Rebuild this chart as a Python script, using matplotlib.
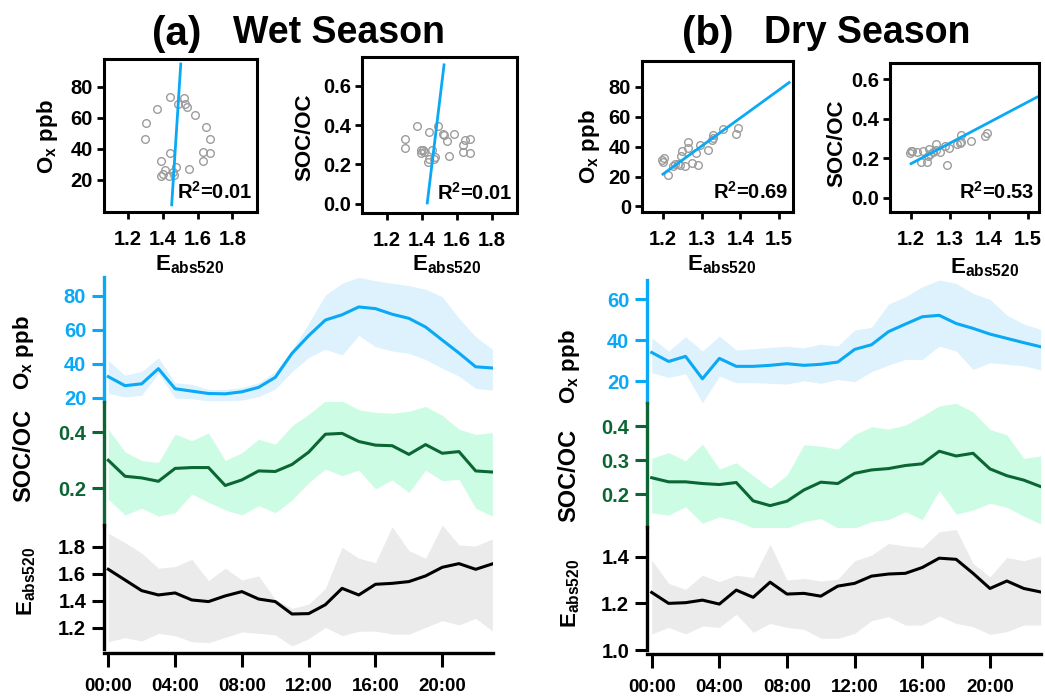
import matplotlib
matplotlib.use('Agg')
from matplotlib import pyplot as plt
from matplotlib.ticker import FormatStrFormatter

plt.rcParams['font.family'] = ['Liberation Sans', 'DejaVu Sans']
plt.rcParams['font.weight'] = 'bold'
plt.rcParams['mathtext.fontset'] = 'custom'
plt.rcParams['mathtext.rm'] = 'Liberation Sans:bold'
plt.rcParams['mathtext.it'] = 'Liberation Sans:bold'
plt.rcParams['mathtext.bf'] = 'Liberation Sans:bold'
plt.rcParams['mathtext.default'] = 'rm'

W, H = 1045, 698

# ---- data (hourly means and shaded range) ----
hours = list(range(24))
hour_ticks = [0, 4, 8, 12, 16, 20]
hour_labels = ['00:00', '04:00', '08:00', '12:00', '16:00', '20:00']

# wet season
wet_ox = [32.4, 27.1, 28.2, 37.1, 25.3, 23.9, 22.5, 22.3, 23.5, 26.1, 32.0, 46.1,
          56.5, 65.7, 68.8, 73.4, 72.4, 69.1, 66.7, 61.6, 53.9, 46.3, 38.2, 37.5]
wet_ox_hi = [41.8, 33.2, 35.5, 43.5, 28.8, 27.9, 24.9, 24.9, 26.1, 28.8, 35.3, 48.1,
             63.8, 80.4, 87.3, 90.8, 88.8, 87.3, 85.9, 83.8, 79.4, 66.7, 55.9, 48.5]
wet_ox_lo = [22.5, 20.5, 21.5, 34.3, 19.8, 19.4, 18.2, 18.2, 18.6, 20.6, 25.1, 35.3,
             43.7, 48.6, 45.1, 56.7, 50.0, 47.5, 46.1, 42.5, 37.3, 32.7, 25.5, 24.5]

wet_soc = [0.300, 0.243, 0.237, 0.225, 0.271, 0.274, 0.274, 0.210, 0.230, 0.262, 0.260, 0.285,
           0.329, 0.393, 0.396, 0.367, 0.354, 0.352, 0.321, 0.356, 0.325, 0.331, 0.262, 0.258]
wet_soc_hi = [0.411, 0.330, 0.299, 0.292, 0.393, 0.370, 0.398, 0.299, 0.327, 0.375, 0.357, 0.423,
              0.464, 0.512, 0.512, 0.480, 0.471, 0.468, 0.475, 0.492, 0.460, 0.411, 0.392, 0.399]
wet_soc_lo = [0.161, 0.105, 0.129, 0.101, 0.113, 0.180, 0.150, 0.123, 0.105, 0.138, 0.113, 0.158,
              0.220, 0.269, 0.245, 0.265, 0.198, 0.230, 0.185, 0.265, 0.227, 0.232, 0.129, 0.101]

wet_eabs = [1.632, 1.553, 1.474, 1.442, 1.457, 1.405, 1.393, 1.435, 1.467, 1.412, 1.393, 1.301,
            1.304, 1.370, 1.491, 1.442, 1.521, 1.528, 1.541, 1.583, 1.647, 1.674, 1.632, 1.672]
wet_eabs_hi = [1.899, 1.830, 1.751, 1.640, 1.652, 1.706, 1.548, 1.640, 1.553, 1.583, 1.410, 1.343,
               1.373, 1.491, 1.795, 1.714, 1.681, 1.948, 1.770, 1.714, 1.960, 1.812, 1.805, 1.857]
wet_eabs_lo = [1.096, 1.126, 1.101, 1.158, 1.141, 1.096, 1.089, 1.128, 1.168, 1.158, 1.146, 1.064,
               1.119, 1.202, 1.141, 1.173, 1.175, 1.153, 1.151, 1.202, 1.252, 1.220, 1.269, 1.175]

# dry season
dry_ox = [34.0, 29.6, 32.1, 21.1, 31.1, 27.2, 27.2, 27.7, 28.5, 27.7, 28.2, 29.3,
          35.5, 37.8, 44.2, 47.9, 51.5, 52.2, 48.2, 45.8, 43.0, 40.9, 38.8, 36.8]
dry_ox_hi = [41.2, 34.7, 41.7, 34.7, 42.0, 35.2, 35.8, 36.5, 37.0, 36.3, 38.1, 37.1,
             45.0, 46.3, 57.7, 61.3, 66.2, 69.5, 67.8, 62.9, 60.0, 52.3, 47.9, 45.3]
dry_ox_lo = [24.1, 21.8, 23.6, 9.4, 22.4, 19.2, 19.2, 18.9, 18.5, 20.2, 18.9, 20.8,
             19.7, 24.6, 27.8, 30.6, 30.6, 37.1, 34.7, 25.7, 29.0, 28.2, 27.5, 25.5]

dry_soc = [0.248, 0.236, 0.236, 0.231, 0.228, 0.234, 0.180, 0.166, 0.179, 0.212, 0.235, 0.231,
           0.261, 0.271, 0.275, 0.284, 0.289, 0.326, 0.312, 0.320, 0.274, 0.254, 0.241, 0.222]
dry_soc_hi = [0.305, 0.322, 0.298, 0.347, 0.274, 0.292, 0.254, 0.217, 0.256, 0.345, 0.341, 0.332,
              0.375, 0.398, 0.391, 0.403, 0.430, 0.459, 0.467, 0.442, 0.390, 0.374, 0.305, 0.312]
dry_soc_lo = [0.145, 0.138, 0.163, 0.114, 0.133, 0.122, 0.100, 0.100, 0.100, 0.119, 0.128, 0.100,
              0.100, 0.119, 0.125, 0.148, 0.125, 0.210, 0.141, 0.153, 0.173, 0.161, 0.135, 0.112]

dry_eabs = [1.247, 1.200, 1.203, 1.214, 1.197, 1.257, 1.226, 1.291, 1.240, 1.243, 1.231, 1.274,
            1.286, 1.317, 1.326, 1.329, 1.354, 1.394, 1.389, 1.329, 1.264, 1.296, 1.264, 1.249]
dry_eabs_hi = [1.386, 1.286, 1.260, 1.321, 1.293, 1.321, 1.311, 1.454, 1.300, 1.307, 1.296, 1.304,
               1.383, 1.407, 1.457, 1.446, 1.440, 1.507, 1.517, 1.371, 1.314, 1.397, 1.383, 1.403]
dry_eabs_lo = [1.069, 1.097, 1.069, 1.103, 1.097, 1.154, 1.076, 1.114, 1.097, 1.089, 1.050, 1.050,
               1.071, 1.126, 1.143, 1.107, 1.107, 1.146, 1.114, 1.100, 1.067, 1.079, 1.107, 1.107]

# regression lines of the scatter insets (end points) and R2
wet_ox_fit_x, wet_ox_fit_y = [1.452, 1.504], [4.0, 94.6]
wet_soc_fit_x, wet_soc_fit_y = [1.430, 1.526], [0.004, 0.706]
dry_ox_fit_x, dry_ox_fit_y = [1.200, 1.526], [21.6, 82.9]
dry_soc_fit_x, dry_soc_fit_y = [1.200, 1.523], [0.173, 0.509]
r2_labels = ['0.01', '0.01', '0.69', '0.53']

# ---- colours ----
BLUE = '#0AA9F5'
BLUE_FILL = '#DDF2FC'
GREEN = '#0B6633'
GREEN_FILL = '#CCFCE4'
GRAY_FILL = '#EBEBEB'
DOT = '#9C9C9C'


def rect(x0, y0, x1, y1):
    # pixel box -> figure fraction
    return [x0 / W, 1 - y1 / H, (x1 - x0) / W, (y1 - y0) / H]


def pxtext(fig, x, y, s, **kw):
    fig.text(x / W, 1 - y / H, s, **kw)


def trace(fig, box, xlim, mean, lo, hi, ylim, yticks, fmt, line_col, fill_col, spine_col, label_col):
    ax = fig.add_axes(rect(*box))
    ax.patch.set_alpha(0)
    ax.fill_between(hours, lo, hi, color=fill_col, lw=0)
    ax.plot(hours, mean, color=line_col, lw=2.2)
    ax.set_xlim(xlim)
    ax.set_ylim(ylim)
    for s in ['top', 'right', 'bottom']:
        ax.spines[s].set_visible(False)
    ax.spines['left'].set_color(spine_col)
    ax.spines['left'].set_linewidth(2.4)
    ax.set_yticks(yticks)
    ax.yaxis.set_major_formatter(FormatStrFormatter(fmt))
    ax.tick_params(axis='y', colors=spine_col, labelcolor=label_col, length=9, width=2.2,
                   labelsize=14.5, pad=4)
    ax.set_xticks([])
    return ax


def time_panel(fig, x0, x1, ys, xlim, ox, soc, eabs, lims, ticks, labpos):
    a1 = trace(fig, (x0, ys[0], x1, ys[1]), xlim, *ox, lims[0], ticks[0], '%d',
               BLUE, BLUE_FILL, BLUE, BLUE)
    a2 = trace(fig, (x0, ys[1], x1, ys[2]), xlim, *soc, lims[1], ticks[1], '%.1f',
               GREEN, GREEN_FILL, GREEN, GREEN)
    a3 = trace(fig, (x0, ys[2], x1, ys[3]), xlim, *eabs, lims[2], ticks[2], '%.1f',
               'black', GRAY_FILL, 'black', 'black')
    # time axis under the last trace
    a3.spines['bottom'].set_visible(True)
    a3.spines['bottom'].set_linewidth(2.4)
    a3.spines['bottom'].set_position(('outward', 3))
    a3.set_xticks(hour_ticks)
    a3.set_xticklabels(hour_labels)
    a3.tick_params(axis='x', length=10, width=2.2, labelsize=13.5, pad=8)
    pxtext(fig, labpos[0][0], labpos[0][1], 'O$_x$ ppb', rotation=90, ha='center', va='center', fontsize=16)
    pxtext(fig, labpos[1][0], labpos[1][1], 'SOC/OC', rotation=90, ha='center', va='center', fontsize=17)
    pxtext(fig, labpos[2][0], labpos[2][1], 'E$_{abs520}$', rotation=90, ha='center', va='center', fontsize=16)


def scatter_inset(fig, box, ex, yv, fit_x, fit_y, r2, xlim, ylim, xticks, yticks, fmt, ylabel, ylab_xy, xlab_xy):
    ax = fig.add_axes(rect(*box))
    ax.plot(ex, yv, 'o', mfc='none', mec=DOT, ms=5.5, mew=1.0)
    ax.plot(fit_x, fit_y, color=BLUE, lw=2)
    ax.set_xlim(xlim)
    ax.set_ylim(ylim)
    for s in ax.spines.values():
        s.set_linewidth(2.2)
    ax.set_xticks(xticks)
    ax.set_yticks(yticks)
    ax.xaxis.set_major_formatter(FormatStrFormatter('%.1f'))
    ax.yaxis.set_major_formatter(FormatStrFormatter(fmt))
    ax.tick_params(axis='both', direction='out', length=5, width=2, labelsize=14.5)
    ax.tick_params(axis='x', pad=8)
    ax.tick_params(axis='y', pad=3)
    ax.text(0.97, 0.06, 'R$^2$=' + r2, transform=ax.transAxes, ha='right', va='bottom', fontsize=14.5)
    pxtext(fig, ylab_xy[0], ylab_xy[1], ylabel, rotation=90, ha='center', va='center', fontsize=16)
    pxtext(fig, xlab_xy[0], xlab_xy[1], 'E$_{abs520}$', ha='center', va='center', fontsize=16)
    return ax


fig = plt.figure(figsize=(W / 100, H / 100), dpi=100)

# titles
pxtext(fig, 152, 34, '(a)', ha='left', va='center', fontsize=29)
pxtext(fig, 233, 33, 'Wet Season', ha='left', va='center', fontsize=27)
pxtext(fig, 682, 34, '(b)', ha='left', va='center', fontsize=29)
pxtext(fig, 764, 33, 'Dry Season', ha='left', va='center', fontsize=27)

# scatter insets
scatter_inset(fig, (104, 59, 257, 212), wet_eabs, wet_ox, wet_ox_fit_x, wet_ox_fit_y, r2_labels[0],
              (1.064, 1.941), (-0.6, 97.8), [1.2, 1.4, 1.6, 1.8], [20, 40, 60, 80], '%d',
              'O$_x$ ppb', (47, 137), (190, 265))
scatter_inset(fig, (362, 57, 517, 213), wet_eabs, wet_soc, wet_soc_fit_x, wet_soc_fit_y, r2_labels[1],
              (1.057, 1.943), (-0.047, 0.746), [1.2, 1.4, 1.6, 1.8], [0.0, 0.2, 0.4, 0.6], '%.1f',
              'SOC/OC', (305, 137), (447, 265))
scatter_inset(fig, (642, 61, 793, 212), dry_eabs, dry_ox, dry_ox_fit_x, dry_ox_fit_y, r2_labels[2],
              (1.146, 1.536), (-3.7, 97.3), [1.2, 1.3, 1.4, 1.5], [0, 20, 40, 60, 80], '%d',
              'O$_x$ ppb', (589, 147), (722, 265))
scatter_inset(fig, (890, 63, 1039, 212), dry_eabs, dry_soc, dry_soc_fit_x, dry_soc_fit_y, r2_labels[3],
              (1.146, 1.528), (-0.071, 0.681), [1.2, 1.3, 1.4, 1.5], [0.0, 0.2, 0.4, 0.6], '%.1f',
              'SOC/OC', (837, 143), (985, 268))

# diurnal panels
time_panel(fig, 104.3, 492.7, [277, 402, 525, 649], (-0.24, 23.02),
           (wet_ox, wet_ox_lo, wet_ox_hi), (wet_soc, wet_soc_lo, wet_soc_hi),
           (wet_eabs, wet_eabs_lo, wet_eabs_hi),
           [(17.5, 91), (0.069, 0.508), (1.042, 1.96)],
           [[20, 40, 60, 80], [0.2, 0.4], [1.2, 1.4, 1.6, 1.8]],
           [(24, 353), (24, 455), (27, 581)])
time_panel(fig, 647.3, 1040.7, [280, 403.3, 526.7, 650], (-0.26, 23.0),
           (dry_ox, dry_ox_lo, dry_ox_hi), (dry_soc, dry_soc_lo, dry_soc_hi),
           (dry_eabs, dry_eabs_lo, dry_eabs_hi),
           [(9.1, 69.5), (0.104, 0.467), (1.0, 1.529)],
           [[20, 40, 60], [0.2, 0.3, 0.4], [1.0, 1.2, 1.4]],
           [(569, 367), (569, 475), (571, 593)])

fig.savefig('out.png', dpi=100)
